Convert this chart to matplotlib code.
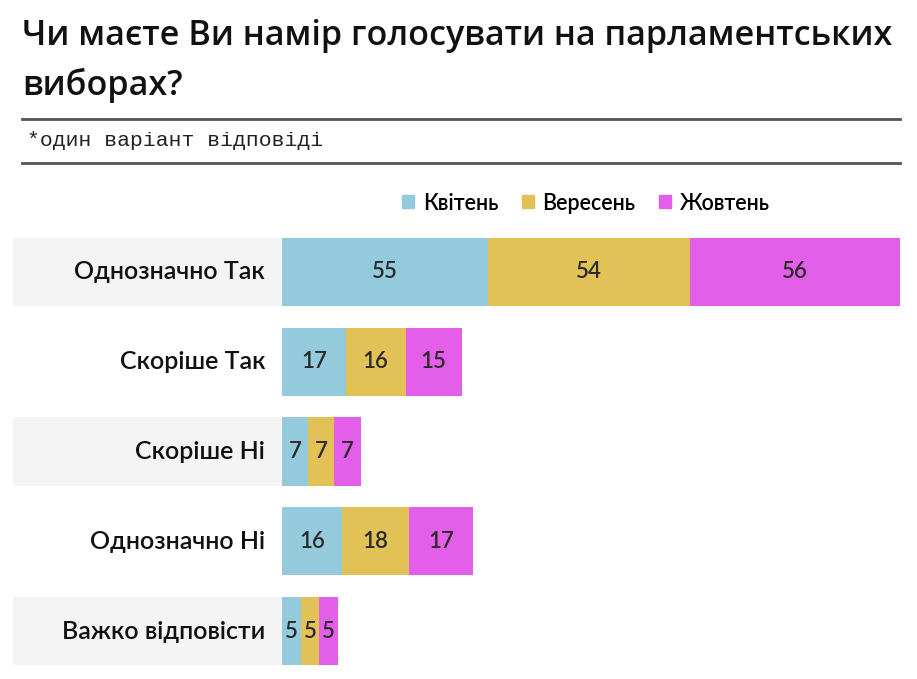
import matplotlib
matplotlib.use("Agg")
import matplotlib.pyplot as plt
from matplotlib.lines import Line2D
from matplotlib.patches import Patch
import numpy as np

# survey data
answers = ['Однозначно Так', 'Скоріше Так', 'Скоріше Ні', 'Однозначно Ні', 'Важко відповісти']
months = ['Квітень', 'Вересень', 'Жовтень']
april = [55, 17, 7, 16, 5]
september = [54, 16, 7, 18, 5]
october = [56, 15, 7, 17, 5]
colors = ['#94cbdc', '#e2c156', '#e35fe9']

W, H = 917, 679
fig = plt.figure(figsize=(W / 100, H / 100), dpi=100)

# title: shrink font so first line fits between 22px and 893px
t1 = fig.text(22 / W, 1 - 45 / H, 'Чи маєте Ви намір голосувати на парламентських',
              fontsize=27, family='Open Sans', fontweight='semibold', color='#111111', va='baseline')
r = fig.canvas.get_renderer()
w = t1.get_window_extent(r).width
fs = 27 * 871 / w
t1.set_fontsize(fs)
fig.text(22 / W, 1 - 95 / H, 'виборах?',
         fontsize=fs, family='Open Sans', fontweight='semibold', color='#111111', va='baseline')

fig.add_artist(Line2D([22 / W, 900 / W], [1 - 119 / H] * 2, color='#555555', lw=2))
fig.add_artist(Line2D([22 / W, 900 / W], [1 - 163 / H] * 2, color='#555555', lw=2))
fig.text(27 / W, 1 - 141 / H, '*один варіант відповіді', fontsize=15.4,
         family='Liberation Mono', color='#222222', va='center')

# bar area: 282px -> value 0, 3.745 px per unit
px = 3.745
x_left = -(282 - 13) / px
x_right = (900 - 282) / px
ax = fig.add_axes([13 / W, 1 - 676 / H, (900 - 13) / W, 449 / H])
ax.set_xlim(x_left, x_right)
ax.set_ylim(4.5, -0.5)
ax.axis('off')

y = np.arange(len(answers))
h = 0.76

# grey bands behind labels on alternate rows
for i in y[::2]:
    ax.barh(i, -x_left, left=x_left, height=h, color='#f4f4f4')

left = np.zeros(len(answers))
for vals, col in zip([april, september, october], colors):
    bars = ax.barh(y, vals, left=left, height=h, color=col)
    for b, v in zip(bars, vals):
        ax.text(b.get_x() + b.get_width() / 2, b.get_y() + b.get_height() / 2, str(v),
                ha='center', va='center', fontsize=16, family='Lato', fontweight='semibold',
                color='#2a2a2a')
    left += np.array(vals)

for i, lab in zip(y, answers):
    ax.text(-17 / px, i, lab, ha='right', va='center', fontsize=18, family='Lato',
            fontweight='semibold', color='#111111')

handles = [Patch(color=c) for c in colors]
fig.legend(handles, months, loc='center', bbox_to_anchor=(586 / W, 1 - 203 / H), ncol=3,
           frameon=False, handlelength=0.55, handleheight=0.55, handletextpad=0.4,
           columnspacing=1.1, prop={'family': 'Lato', 'size': 15.5, 'weight': 'semibold'})

fig.savefig('out.png', dpi=100)
